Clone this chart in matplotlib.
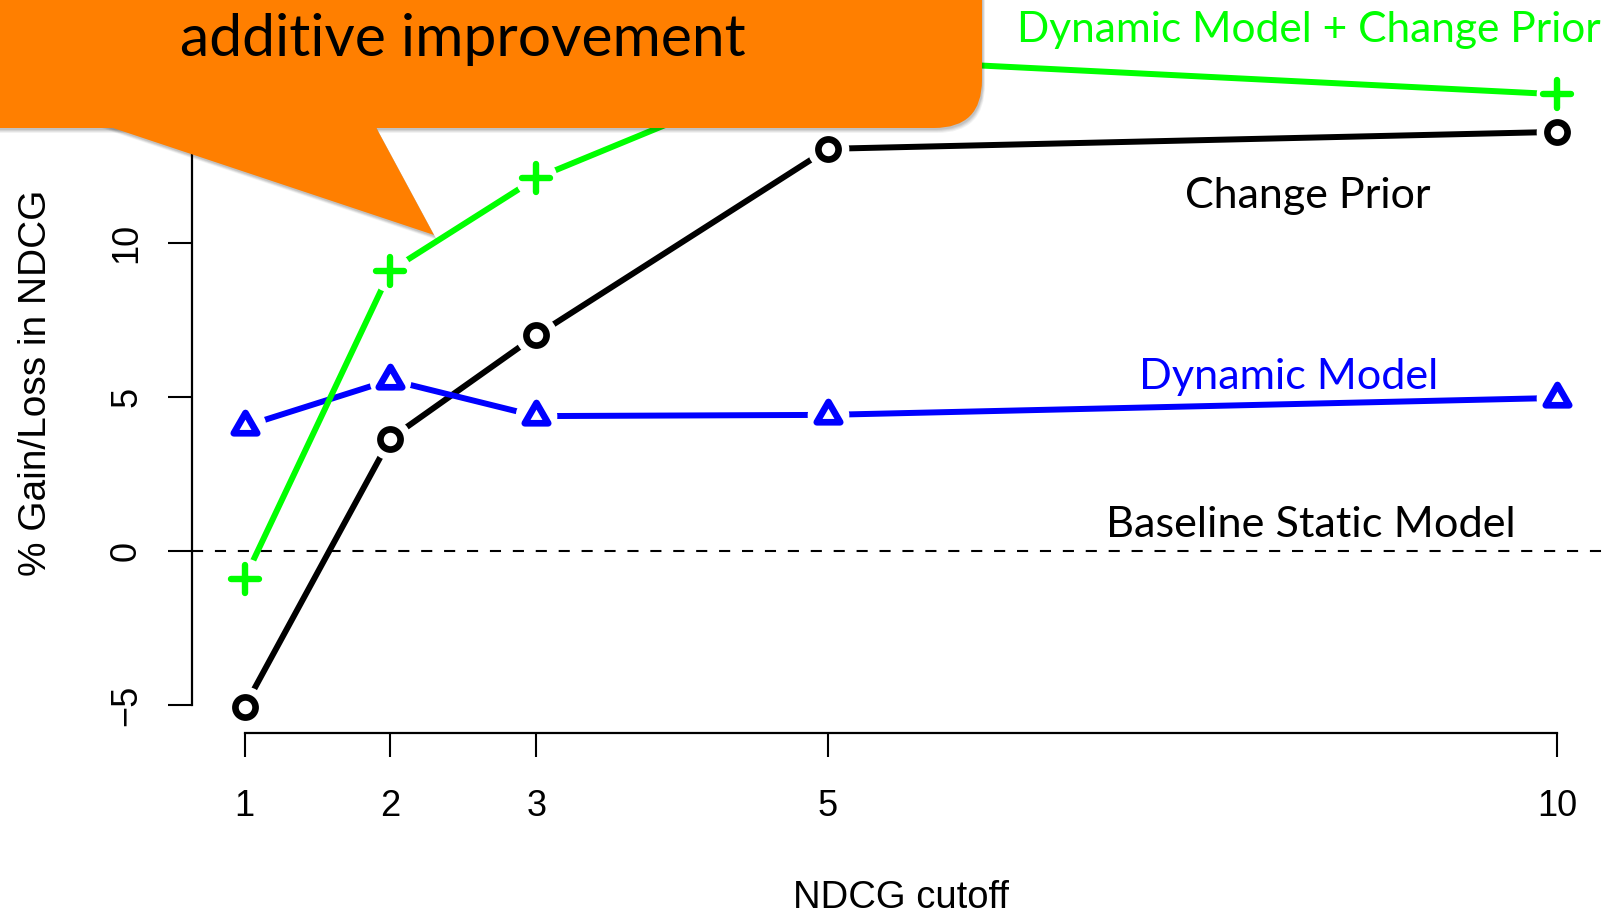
import matplotlib
matplotlib.use("Agg")
import matplotlib.pyplot as plt
from matplotlib.patches import FancyBboxPatch, Polygon
from matplotlib.markers import MarkerStyle
from matplotlib.path import Path
from matplotlib.transforms import Affine2D

# ---------------- data ----------------
cutoffs = [1, 2, 3, 5, 10]
change_prior = [-5.05, 3.65, 7.0, 13.05, 13.6]
dynamic_model = [4.05, 5.55, 4.38, 4.42, 4.97]
dynamic_plus_prior = [-0.9, 9.1, 12.1, 16.0, 14.82]
yticks = [-5, 0, 5, 10, 15]

W, H = 1615, 913
plt.rcParams['lines.scale_dashes'] = False
fig = plt.figure(figsize=(W / 100, H / 100), dpi=100)
fig.patch.set_facecolor('white')

# axes region (pixels, top-left origin)
L, R, T, B = 192, 1610, 32, 733
ax = fig.add_axes([L / W, 1 - B / H, (R - L) / W, (B - T) / H])
ax.set_xlim(0.64, 10.36)
ax.set_ylim(-5.9, 16.84)
ax.patch.set_alpha(0)

axis_font = ['Liberation Sans', 'DejaVu Sans']
for s in ['top', 'right']:
    ax.spines[s].set_visible(False)
ax.spines['left'].set_bounds(-5, 15)
ax.spines['bottom'].set_bounds(1, 10)
for s in ['left', 'bottom']:
    ax.spines[s].set_linewidth(1.6)
ax.set_xticks(cutoffs)
ax.set_xticklabels([str(c) for c in cutoffs], family=axis_font, fontsize=26)
ax.set_yticks(yticks)
ax.set_yticklabels([str(v).replace('-', '\u2212') for v in yticks],
                   family=axis_font, fontsize=26, rotation=90, va='center')
ax.tick_params(axis='both', length=17.5, width=1.5, color='black')
ax.tick_params(axis='x', pad=23)
ax.tick_params(axis='y', pad=17)
ax.set_xlabel('NDCG cutoff', family=axis_font, fontsize=27.5, labelpad=40)
ax.set_ylabel('% Gain/Loss in NDCG', family=axis_font, fontsize=28, labelpad=40)

# baseline
ax.axhline(0, color='black', lw=1.5, dashes=(8, 8.5), zorder=1)

# markers
tri = Path([(0, 1), (-0.866, -0.5), (0.866, -0.5), (0, 1)],
           [Path.MOVETO, Path.LINETO, Path.LINETO, Path.CLOSEPOLY])
tri_m = MarkerStyle(tri, joinstyle='round')
plus_m = MarkerStyle('+', capstyle='round')
circ_m = MarkerStyle('o')

series = [
    (change_prior, 'black', circ_m, 14.5, 4.8),
    (dynamic_model, '#0000ff', tri_m, 19.5, 4.8),
    (dynamic_plus_prior, '#00ff00', plus_m, 19.5, 4.6),
]
for ys, col, m, ms, mew in series:
    ax.plot(cutoffs, ys, color=col, lw=4.3, solid_capstyle='round', zorder=2)
for ys, col, m, ms, mew in series:
    ax.plot(cutoffs, ys, ls='none', marker='o', ms=30, mfc='white', mec='none', zorder=3)
for ys, col, m, ms, mew in series:
    ax.plot(cutoffs, ys, ls='none', marker=m, ms=ms, mew=mew, mec=col,
            mfc='white' if m is circ_m else 'none', zorder=4)

# ---------------- callout ----------------
pix = Affine2D().scale(0.01, -0.01).translate(0, H / 100) + fig.dpi_scale_trans
orange = '#ff7f00'
box_xy = (-80, -80)
box_w, box_h = 982 + 80, 128 + 80
tail = [(89, 120), (434, 235), (372, 120)]

for k, a in [(5, 0.05), (4, 0.06), (3, 0.07), (2, 0.08)]:
    sh = FancyBboxPatch((box_xy[0] + k * 0.6, box_xy[1] + k), box_w, box_h,
                        boxstyle='round,pad=0,rounding_size=48',
                        transform=pix, fc='black', ec='none', alpha=a, zorder=5)
    fig.add_artist(sh)
    tp = Polygon([(x + k * 0.6, y + k) for x, y in tail], closed=True,
                 transform=pix, fc='black', ec='none', alpha=a, zorder=5)
    fig.add_artist(tp)

box = FancyBboxPatch(box_xy, box_w, box_h, boxstyle='round,pad=0,rounding_size=48',
                     transform=pix, fc=orange, ec='none', zorder=6)
fig.add_artist(box)
fig.add_artist(Polygon(tail, closed=True, transform=pix, fc=orange, ec='none', zorder=6))

# ---------------- annotation text ----------------
cal = ['Lato', 'DejaVu Sans']
labels = [
    ('additive improvement', 462.5, 56, 'black', 565),
    ('Dynamic Model + Change Prior', 1308.5, 42, '#00ff00', 585),
    ('Change Prior', 1308, 208, 'black', 246),
    ('Dynamic Model', 1288.5, 389, '#0000ff', 299),
    ('Baseline Static Model', 1310.5, 537, 'black', 409),
]
texts = []
for s, x, y, col, wt in labels:
    t = fig.text(x / W, 1 - y / H, s, family=cal, fontsize=30, color=col,
                 ha='center', va='baseline', zorder=8)
    texts.append((t, wt))
fig.canvas.draw()
rend = fig.canvas.get_renderer()
for t, wt in texts:
    w = t.get_window_extent(rend).width
    t.set_fontsize(t.get_fontsize() * wt / w)

fig.savefig('out.png', dpi=100, facecolor='white')
